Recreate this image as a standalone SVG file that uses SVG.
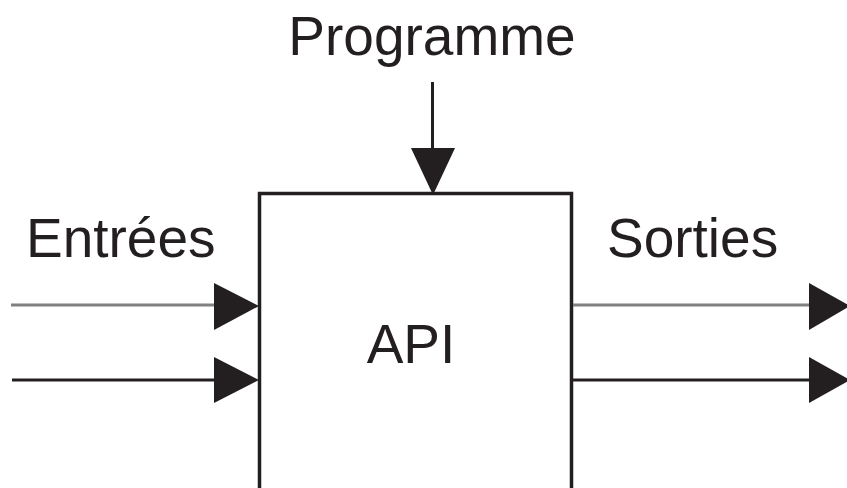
<svg xmlns="http://www.w3.org/2000/svg" width="847" height="488" viewBox="0 0 847 488">
<style>
text{font-family:"Liberation Sans",Arial,sans-serif;font-size:55px;fill:#231f20}
.ln{stroke:#231f20;stroke-width:3;fill:none}
.gr{stroke:#808080;stroke-width:3;fill:none}
.ah{fill:#231f20}
</style>
<rect width="847" height="488" fill="#fff"/>
<g id="api">
<rect x="259.5" y="193.5" width="312" height="310" fill="none" stroke="#231f20" stroke-width="3.5"/>
<text x="411" y="363" text-anchor="middle">API</text>
</g>
<g id="programme"><text x="432" y="55" text-anchor="middle">Programme</text></g>
<g id="entrees"><text x="26" y="257">Entrées</text></g>
<g id="sorties"><text x="607" y="257">Sorties</text></g>
<g id="connectors">
<line class="ln" x1="432.5" y1="82" x2="432.5" y2="150"/>
<polygon class="ah" points="411,148 455,148 433,195"/>
<line class="gr" x1="11" y1="305" x2="216" y2="305"/>
<polygon class="ah" points="214,283 259,306 214,330"/>
<line class="ln" x1="12" y1="380" x2="216" y2="380"/>
<polygon class="ah" points="214,357 259,380 214,403"/>
<line class="gr" x1="573" y1="305" x2="811" y2="305"/>
<polygon class="ah" points="809,283 850,306 809,330"/>
<line class="ln" x1="573" y1="380" x2="811" y2="380"/>
<polygon class="ah" points="809,357 850,380 809,403"/>
</g>
</svg>
